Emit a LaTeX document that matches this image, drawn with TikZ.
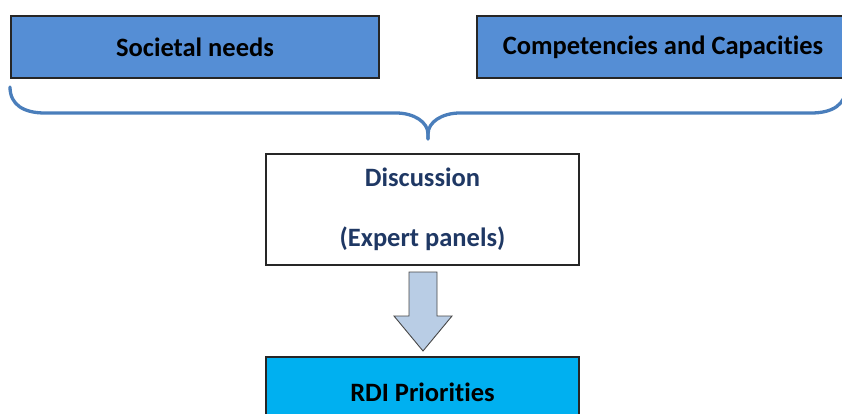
\documentclass[tikz,border=0pt]{standalone}
\usepackage{fontspec}
\setmainfont{Carlito}[Ligatures=NoCommon]
\definecolor{topblue}{HTML}{558ED5}
\definecolor{bracecol}{HTML}{4A7EBB}
\definecolor{navy}{HTML}{1F3864}
\definecolor{rdiblue}{HTML}{00B0F0}
\definecolor{arrowfill}{HTML}{B9CDE5}
\definecolor{edgegray}{HTML}{262626}
\begin{document}
\begin{tikzpicture}[x=1pt,y=-1pt,
  boxstyle/.style={draw=edgegray,line width=1.2pt,inner sep=0pt,
    font=\fontsize{26.5}{31}\selectfont\bfseries},
  topbox/.style={boxstyle,fill=topblue,text=black,minimum height=62pt},
  midbox/.style={boxstyle,fill=white,text=navy,minimum width=313pt,minimum height=111pt,
    align=center,font=\fontsize{26.5}{60}\selectfont\bfseries},
  rdibox/.style={boxstyle,fill=rdiblue,text=black,minimum width=313pt,minimum height=70pt},
  bracestyle/.style={draw=bracecol,line width=3.3pt,line cap=round},
  arrowstyle/.style={draw=edgegray!85,line width=0.9pt,fill=arrowfill,line join=miter}]
\useasboundingbox (0,0) rectangle (842,413);
\clip (0,0) rectangle (842,413);
% top boxes
\node[topbox,minimum width=368pt] (soc) at (195,47) {Societal needs};
\node[topbox,minimum width=372pt] (comp) at (663,47) {Competencies and Capacities};
% brace
\coordinate (bl) at (10,87);
\coordinate (br) at (846,87);
\coordinate (tip) at (428,139);
\draw[bracestyle] (bl) .. controls (10,105) and (24,113) .. (45,113) -- (396,113)
  .. controls (414,113) and (428,122) .. (428,134) -- (tip);
\draw[bracestyle] (tip) -- (428,134) .. controls (428,122) and (442,113) .. (460,113) -- (811,113)
  .. controls (832,113) and (846,105) .. (br);
% discussion box
\node[midbox] (disc) at (422.5,209.5) {Discussion\\(Expert panels)};
% RDI box
\node[rdibox] (rdi) at (422.5,392) {RDI Priorities};
% block arrow
\draw[arrowstyle] (409,272) -- (437,272) -- (437,316) -- (452,316) -- (423,351)
  -- (394,316) -- (409,316) -- cycle;
\end{tikzpicture}
\end{document}
